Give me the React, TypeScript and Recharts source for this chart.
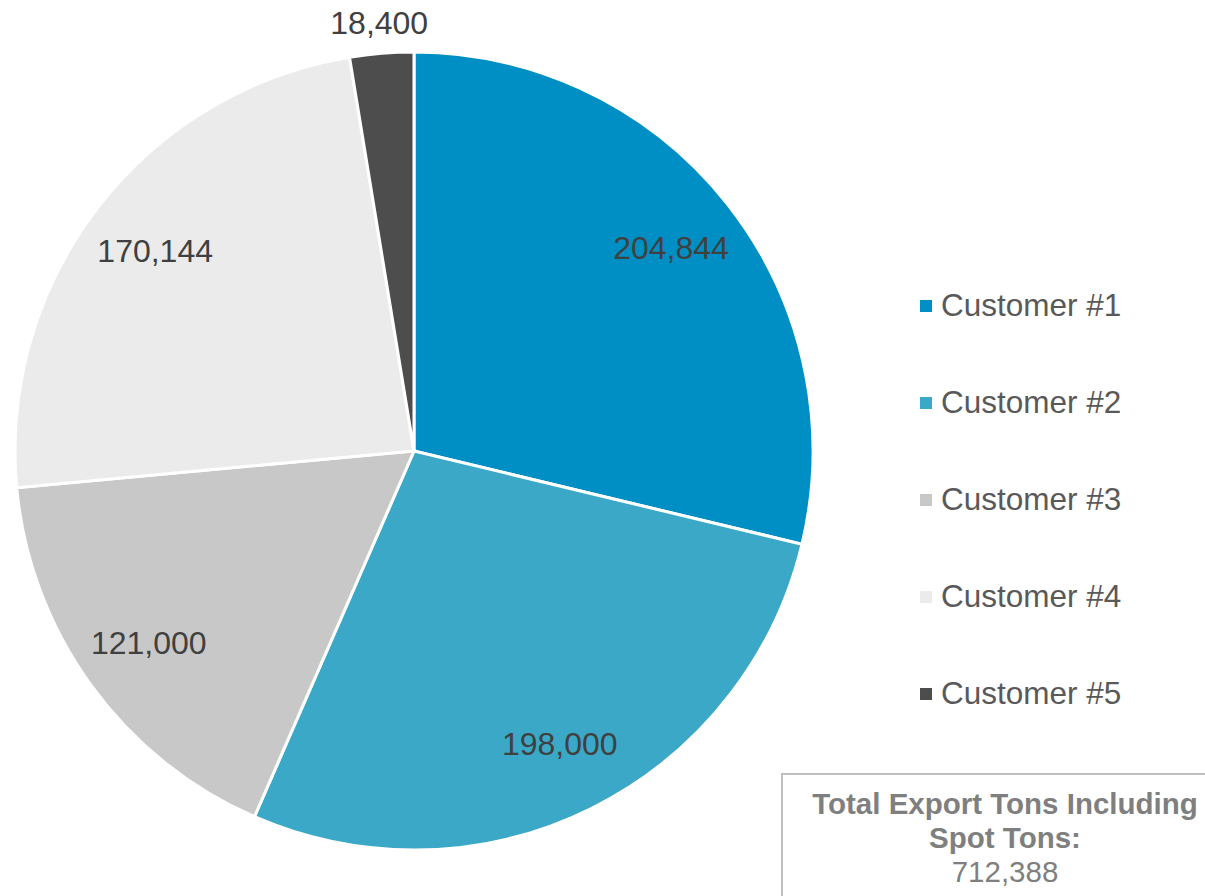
import { PieChart, Pie, Cell, Legend } from "recharts";

const customers = ["Customer #1", "Customer #2", "Customer #3", "Customer #4", "Customer #5"];
const tons = [204844, 198000, 121000, 170144, 18400];
const colors = ["#008FC4", "#3AA8C6", "#C8C8C8", "#EBEBEB", "#4D4D4D"];
const totalTons = 712388;

const FONT = "Arial, 'Liberation Sans', sans-serif";
const RAD = Math.PI / 180;

const data = customers.map((name, i) => ({ name, value: tons[i] }));

function fmt(n: number): string {
  return n.toLocaleString("en-US");
}

// labels sit inside the slice, the tiny one goes outside
function renderLabel(props: any) {
  const { cx, cy, midAngle, outerRadius, value, percent } = props;
  const r = percent < 0.05 ? outerRadius + 30 : outerRadius * 0.82;
  const x = cx + r * Math.cos(-midAngle * RAD);
  const y = cy + r * Math.sin(-midAngle * RAD);
  return (
    <text
      x={x}
      y={y}
      fill="#404040"
      fontSize={32}
      fontFamily={FONT}
      textAnchor="middle"
      dominantBaseline="central"
    >
      {fmt(value)}
    </text>
  );
}

function LegendList() {
  return (
    <div style={{ fontFamily: FONT }}>
      {data.map((d, i) => (
        <div key={d.name} style={{ display: "flex", alignItems: "center", height: 97 }}>
          <span
            style={{
              width: 12,
              height: 12,
              background: colors[i],
              display: "inline-block",
              marginRight: 9,
            }}
          />
          <span style={{ fontSize: 31.5, color: "#595959" }}>{d.name}</span>
        </div>
      ))}
    </div>
  );
}

export default function App() {
  return (
    <div
      style={{
        position: "absolute",
        left: 0,
        top: 0,
        width: 1205,
        height: 896,
        overflow: "hidden",
        background: "#fff",
      }}
    >
      <PieChart width={1205} height={896} margin={{ top: 0, right: 0, bottom: 0, left: 0 }}>
        <Pie
          data={data}
          dataKey="value"
          nameKey="name"
          cx={414}
          cy={451}
          outerRadius={399}
          startAngle={90}
          endAngle={-270}
          stroke="#fff"
          strokeWidth={3}
          label={renderLabel}
          labelLine={false}
          isAnimationActive={false}
        >
          {data.map((d, i) => (
            <Cell key={d.name} fill={colors[i]} />
          ))}
        </Pie>
        <Legend
          content={() => <LegendList />}
          wrapperStyle={{ left: 920, top: 257, width: 285 }}
        />
      </PieChart>

      {/* total box, runs off the right/bottom edge */}
      <div
        style={{
          position: "absolute",
          left: 781,
          top: 773,
          width: 448,
          height: 160,
          border: "2px solid #BFBFBF",
          boxSizing: "border-box",
          fontFamily: FONT,
          color: "#7F7F7F",
          textAlign: "center",
          fontSize: 29.5,
          lineHeight: "34px",
          paddingTop: 12,
        }}
      >
        <div style={{ fontWeight: "bold" }}>Total Export Tons Including</div>
        <div style={{ fontWeight: "bold" }}>Spot Tons:</div>
        <div>{fmt(totalTons)}</div>
      </div>
    </div>
  );
}
